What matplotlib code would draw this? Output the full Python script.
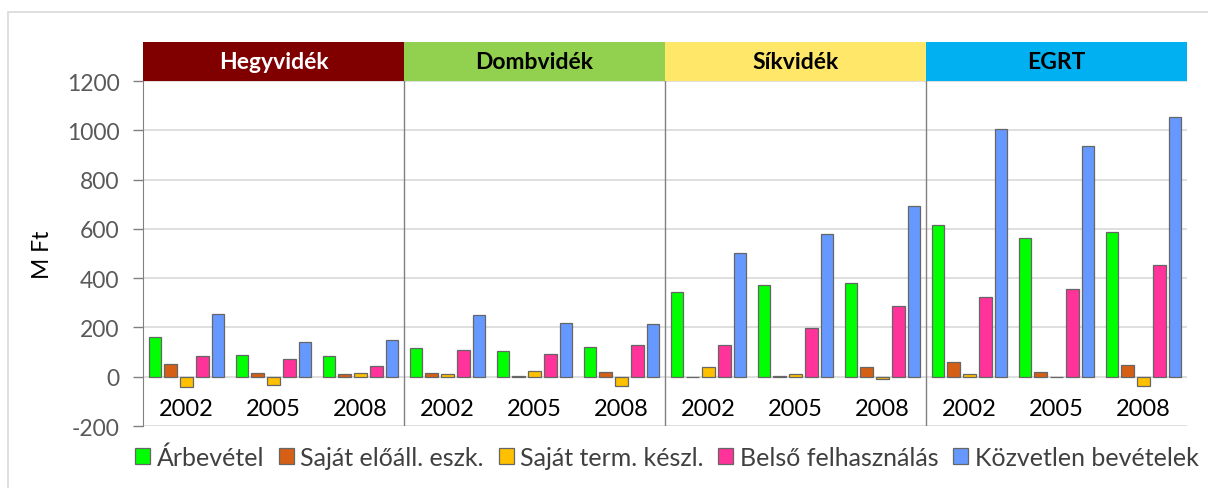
import numpy as np
import matplotlib.pyplot as plt
from matplotlib.patches import Rectangle
import matplotlib.transforms as mtransforms

plt.rcParams['font.family'] = ['Lato', 'DejaVu Sans']
plt.rcParams['axes.unicode_minus'] = False

# Data (M Ft)
regions = ['Hegyvidék', 'Dombvidék', 'Síkvidék', 'EGRT']
region_colors = ['#800000', '#92D050', '#FFE76A', '#00B0F0']
region_text = ['white', 'black', 'black', 'black']
years = ['2002', '2005', '2008']
series = ['Árbevétel', 'Saját előáll. eszk.', 'Saját term. készl.',
          'Belső felhasználás', 'Közvetlen bevételek']
colors = ['#00FF00', '#D55F14', '#FFC000', '#FF3399', '#6699FF']

arbevetel = [160, 89, 86, 115, 104, 122, 343, 373, 381, 615, 564, 587]
sajat_eloall = [50, 14, 10, 14, 4, 19, -3, 2, 39, 60, 20, 49]
sajat_term = [-40, -35, 14, 11, 22, -38, 39, 12, -10, 10, -2, -38]
belso = [85, 72, 43, 109, 91, 127, 130, 199, 285, 322, 357, 453]
kozvetlen = [254, 140, 150, 249, 220, 212, 503, 581, 692, 1004, 938, 1053]

values = [arbevetel, sajat_eloall, sajat_term, belso, kozvetlen]

fig = plt.figure(figsize=(12.08, 4.89), dpi=100)
ax = fig.add_axes([143 / 1208, 1 - 427 / 489, (1187 - 143) / 1208, (427 - 82) / 489])

x = np.arange(len(regions) * len(years))
step = 0.181
width = 0.146
for i, (name, vals) in enumerate(zip(series, values)):
    ax.bar(x + (i - 2) * step, vals, width, color=colors[i], edgecolor='#666666',
           linewidth=0.9, label=name, zorder=3)

ax.set_xlim(-0.5, len(x) - 0.5)
ax.set_ylim(-200, 1200)
ax.set_yticks(range(-200, 1201, 200))
ax.set_xticks([])
ax.tick_params(axis='y', labelsize=16.5, labelcolor='#595959', color='#808080',
               length=7, width=1, pad=10)
ax.yaxis.grid(True, color='#D9D9D9', linewidth=1.2, zorder=0)
for s in ['top', 'right', 'bottom']:
    ax.spines[s].set_visible(False)
ax.spines['left'].set_color('#808080')
ax.set_ylabel('M Ft', fontsize=16.5, labelpad=10)

# year labels and panel dividers
for k in x:
    ax.text(k, -130, years[k % 3], ha='center', va='center', fontsize=17)
for b in [2.5, 5.5, 8.5]:
    ax.axvline(b, color='#808080', linewidth=1, zorder=4)

# region header bands
trans = mtransforms.blended_transform_factory(ax.transData, ax.transAxes)
band_h = 39 / 345
for j, reg in enumerate(regions):
    ax.add_patch(Rectangle((j * 3 - 0.5, 1.0), 3, band_h, transform=trans,
                           facecolor=region_colors[j], edgecolor='none', clip_on=False))
    ax.text(j * 3 + 1, 1.0 + band_h / 2, reg, transform=trans, ha='center',
            va='center', fontsize=16.5, fontweight='bold', color=region_text[j])

fig.legend(loc='center', bbox_to_anchor=(0.552, 1 - 458 / 489), ncol=5, frameon=False,
           fontsize=18, handlelength=0.6, handleheight=0.6, handletextpad=0.25,
           columnspacing=0.6, labelcolor='#404040')

# outer chart border
fig.patches.append(Rectangle((8 / 1208, -0.1), 1.2, 1 - 13 / 489 + 0.1,
                             transform=fig.transFigure, facecolor='none',
                             edgecolor='#D9D9D9', linewidth=1.2))

fig.savefig('out.png', dpi=100)
